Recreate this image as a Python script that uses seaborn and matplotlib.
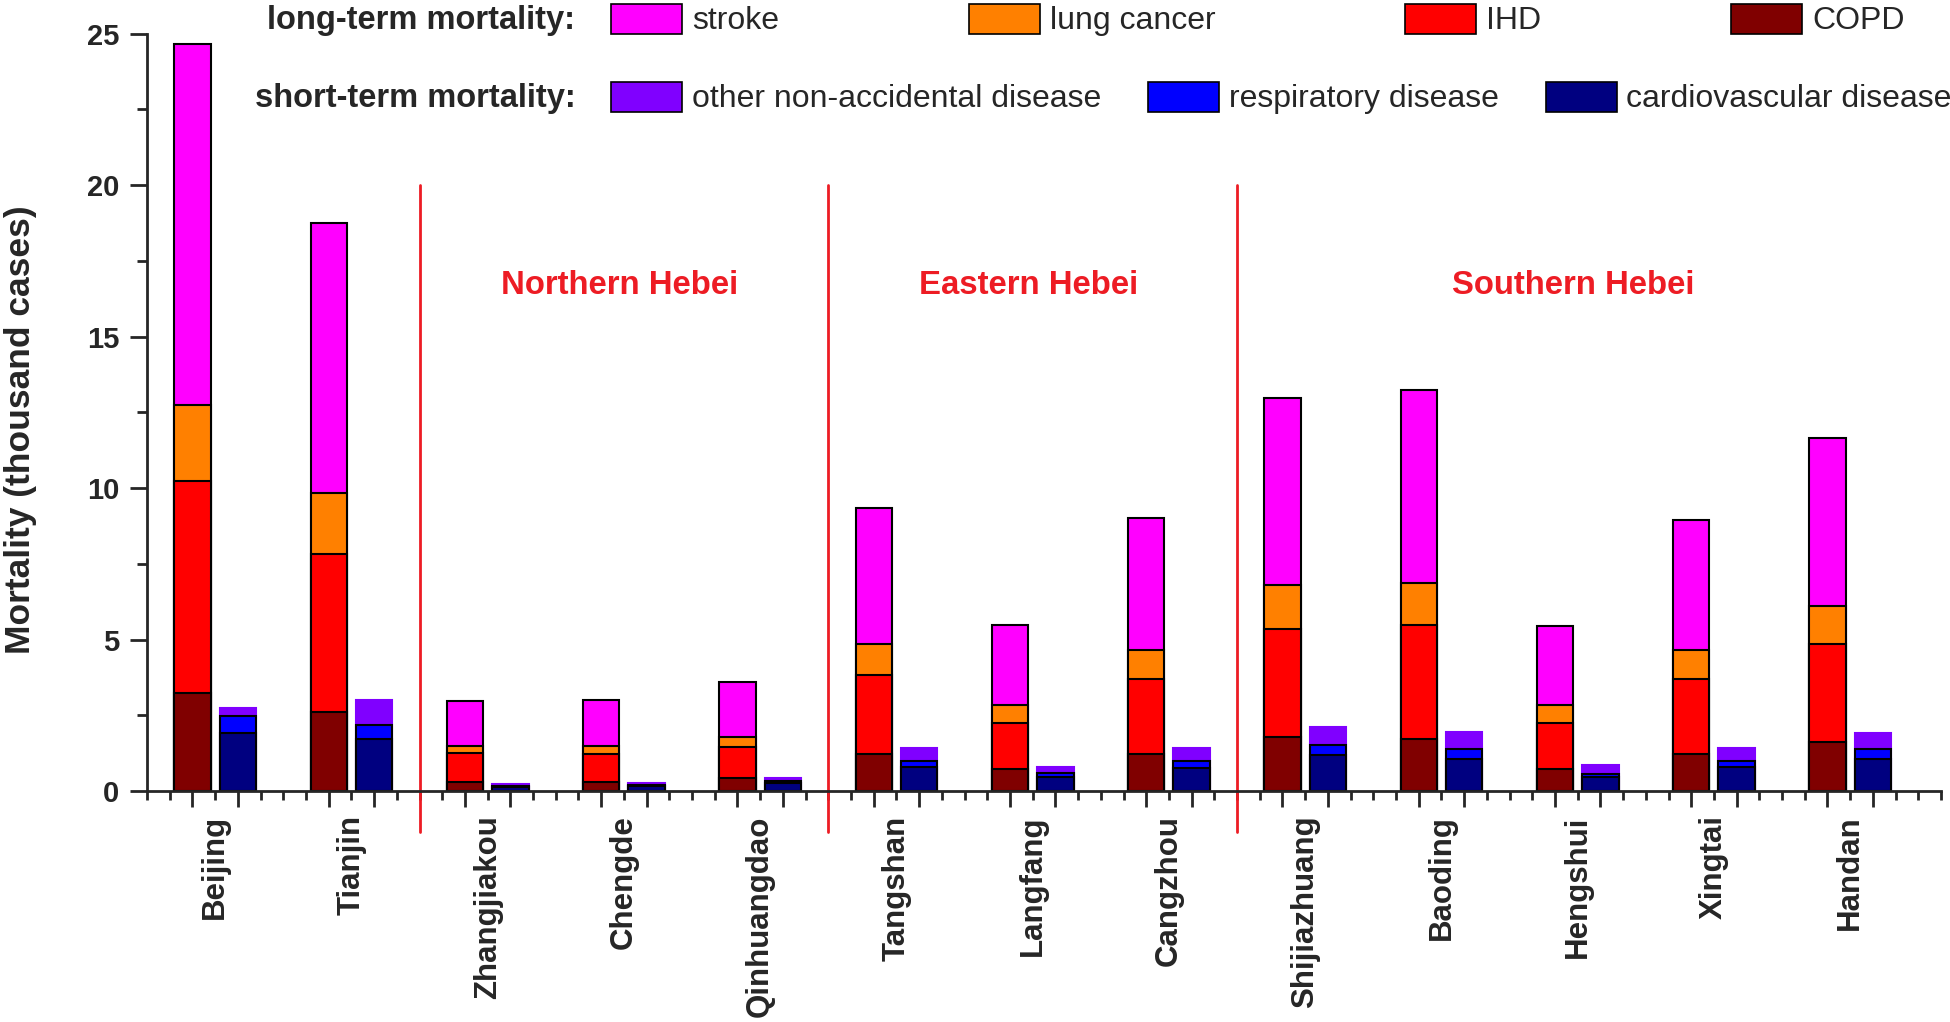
import numpy as np
import pandas as pd
import matplotlib
matplotlib.use('Agg')
import matplotlib.pyplot as plt
from matplotlib.patches import Patch
import seaborn as sns

# ---- data (thousand cases) ----
cities = ['Beijing', 'Tianjin', 'Zhangjiakou', 'Chengde', 'Qinhuangdao',
          'Tangshan', 'Langfang', 'Cangzhou', 'Shijiazhuang', 'Baoding',
          'Hengshui', 'Xingtai', 'Handan']

# long-term mortality components
copd = [3.22, 2.60, 0.29, 0.30, 0.42, 1.23, 0.74, 1.21, 1.77, 1.73, 0.74, 1.21, 1.62]
ihd = [7.00, 5.24, 0.98, 0.91, 1.04, 2.60, 1.51, 2.48, 3.59, 3.74, 1.50, 2.48, 3.23]
lung_cancer = [2.51, 2.01, 0.22, 0.28, 0.34, 1.02, 0.58, 0.98, 1.44, 1.39, 0.59, 0.97, 1.26]
stroke = [11.94, 8.91, 1.47, 1.51, 1.81, 4.48, 2.65, 4.33, 6.17, 6.38, 2.62, 4.28, 5.56]

# short-term mortality components
cardio = [1.93, 1.73, 0.14, 0.15, 0.28, 0.79, 0.46, 0.77, 1.19, 1.07, 0.46, 0.79, 1.05]
resp = [0.55, 0.44, 0.04, 0.04, 0.05, 0.20, 0.12, 0.22, 0.33, 0.31, 0.11, 0.20, 0.33]
other = [0.26, 0.83, 0.06, 0.07, 0.09, 0.42, 0.22, 0.42, 0.59, 0.57, 0.28, 0.44, 0.54]

# regions: (name, first city index, last city index)
regions = [('Northern Hebei', 2, 4), ('Eastern Hebei', 5, 7), ('Southern Hebei', 8, 12)]

long_labels = ['stroke', 'lung cancer', 'IHD', 'COPD']
long_colors = ['#FF00FF', '#FF8000', '#FF0000', '#800000']
short_labels = ['other non-accidental disease', 'respiratory disease', 'cardiovascular disease']
short_colors = ['#8000FF', '#0000FF', '#000080']

# ---- style ----
sns.set_style('ticks')
plt.rcParams['font.family'] = ['Liberation Sans', 'DejaVu Sans']

fig = plt.figure(figsize=(19.5, 10.22), dpi=100)
ax = fig.add_axes([0.0754, 0.226, 0.92, 0.741])

# each city gets 3 slots: long-term bar, short-term bar, gap
slots = []
for c in cities:
    slots += [c + ' L', c + ' S', c + ' gap']
long_slots = [c + ' L' for c in cities]
short_slots = [c + ' S' for c in cities]

# cumulative tops, drawn from the tallest layer down so the stacks overlap
long_layers = np.cumsum([copd, ihd, lung_cancer, stroke], axis=0)[::-1]
short_layers = np.cumsum([cardio, resp, other], axis=0)[::-1]

for vals, col in zip(long_layers, long_colors):
    df = pd.DataFrame({'slot': long_slots, 'value': vals})
    sns.barplot(data=df, x='slot', y='value', order=slots, color=col,
                saturation=1, edgecolor='black', linewidth=1.5, width=0.8,
                errorbar=None, ax=ax)
for i, (vals, col) in enumerate(zip(short_layers, short_colors)):
    df = pd.DataFrame({'slot': short_slots, 'value': vals})
    sns.barplot(data=df, x='slot', y='value', order=slots, color=col,
                saturation=1, edgecolor='black' if i else col,
                linewidth=1.5, width=0.8, errorbar=None, ax=ax)

# axes
ax.set_xlim(-1, len(slots) - 0.5)
ax.set_ylim(0, 25)
ax.set_xlabel('')
ax.set_ylabel('')
sns.despine(ax=ax)
for s in ['left', 'bottom']:
    ax.spines[s].set_linewidth(2)

bar_pos = [i for i in range(len(slots)) if i % 3 != 2]
ax.set_xticks(bar_pos)
ax.set_xticklabels([])
ax.set_xticks(np.arange(-1, len(slots) - 0.4, 0.5), minor=True)
ax.tick_params(axis='x', which='major', length=11.5, width=2, direction='out')
ax.tick_params(axis='x', which='minor', length=6.5, width=2, direction='out')

ax.set_yticks(np.arange(0, 26, 5))
ax.set_yticks(np.arange(0, 25.1, 2.5), minor=True)
ax.tick_params(axis='y', which='major', length=12, width=2, direction='out',
               labelsize=21, pad=8)
ax.tick_params(axis='y', which='minor', length=7, width=2, direction='out')
for t in ax.get_yticklabels():
    t.set_fontweight('bold')

for i, c in enumerate(cities):
    ax.text(3 * i + 0.5, -0.8, c, rotation=90, ha='center', va='top',
            fontsize=22.5, fontweight='bold', clip_on=False)

fig.text(21 / 1950, 1 - 430 / 1022, 'Mortality (thousand cases)', rotation=90,
         ha='center', va='center', fontsize=25.5, fontweight='bold')

# region separators and names
red = '#ED1C24'
for name, first, last in regions:
    sep = 3 * first - 1
    ax.plot([sep, sep], [-1.35, 20], color=red, lw=2, clip_on=False)
    center = np.mean([3 * k + 0.5 for k in range(first, last + 1)])
    ax.text(center - 0.1, 16.7, name, color=red, fontsize=23.7, fontweight='bold',
            ha='center', va='center')

# legends
def make_legend(labels, colors, y, colspace):
    handles = [Patch(facecolor=c, edgecolor='black', linewidth=1.2) for c in colors]
    return ax.legend(handles, labels, ncol=len(labels), loc='center left',
                     bbox_to_anchor=(611 / 1950, y), bbox_transform=fig.transFigure,
                     frameon=False, borderpad=0, borderaxespad=0, fontsize=23,
                     handlelength=2.22, handleheight=1.07, handletextpad=0.31,
                     columnspacing=colspace)

leg1 = make_legend(long_labels, long_colors, 1 - 20 / 1022, 5.95)
ax.add_artist(leg1)
make_legend(short_labels, short_colors, 1 - 98 / 1022, 1.47)

fig.text(575 / 1950, 1 - 20 / 1022, 'long-term mortality:', ha='right',
         va='center', fontsize=23.5, fontweight='bold')
fig.text(576 / 1950, 1 - 98 / 1022, 'short-term mortality:', ha='right',
         va='center', fontsize=23.5, fontweight='bold')

fig.savefig('out.png', dpi=100)
